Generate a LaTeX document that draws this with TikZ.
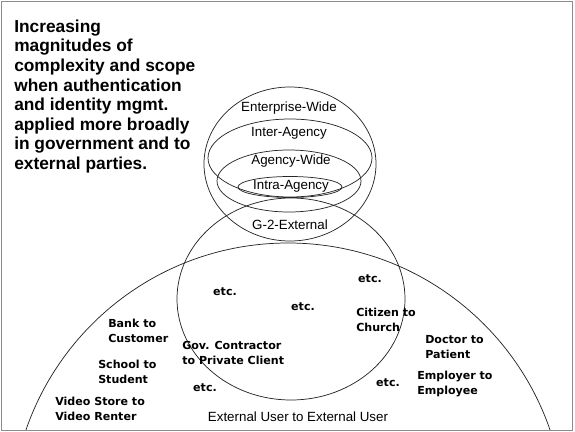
\documentclass[tikz,border=0pt]{standalone}
\usepackage{fontspec}
\setmainfont{Liberation Sans}
\newfontfamily\heavyfont{DejaVu Sans}
\usetikzlibrary{positioning}

\tikzset{
  ring/.style={draw=black!85, line width=0.55pt},
  scopelabel/.style={font=\fontsize{10}{12}\selectfont, inner sep=0pt},
  pairlabel/.style={font=\heavyfont\bfseries\fontsize{8.3}{11}\selectfont, align=left, anchor=west, inner sep=0pt},
  etclabel/.style={font=\heavyfont\bfseries\fontsize{8.3}{11}\selectfont, inner sep=0pt},
}

\begin{document}
\begin{tikzpicture}[x=0.75pt,y=0.75pt,yscale=-1,xscale=1]
\useasboundingbox (0,0) rectangle (575,432);

\begin{scope}
\clip (1,1) rectangle (572,430);
%Shape: Ellipse [Enterprise-Wide]
\draw [ring] (290,164) ellipse [x radius=86, y radius=77];
%Shape: Ellipse [Inter-Agency]
\draw [ring] (290,158) ellipse [x radius=82, y radius=39];
%Shape: Ellipse [Agency-Wide]
\draw [ring] (289,181) ellipse [x radius=72, y radius=31];
%Shape: Ellipse [Intra-Agency]
\draw [ring] (290,187) ellipse [x radius=52, y radius=10.5];
%Shape: Ellipse [G-2-External]
\draw [ring] (291,299) ellipse [x radius=114, y radius=101];
%Shape: Circle [External User]
\draw [ring] (288,520) circle [radius=277];
\end{scope}

%Shape: Frame
\draw [color=black!45] (1,1) rectangle (572,430);

% Text Node
\node [anchor=west, align=left, inner sep=0pt, font=\bfseries\fontsize{13}{14.7}\selectfont] (intro) at (14,96.5)
  {Increasing\\magnitudes of\\complexity and scope\\when authentication\\and identity mgmt.\\applied more broadly\\in government and to\\external parties.};

% Text Node
\node [scopelabel] (enterprise) at (289,108) {Enterprise-Wide};
% Text Node
\node [scopelabel] (inter) at (289,133) {Inter-Agency};
% Text Node
\node [scopelabel] (agency) at (291,161) {Agency-Wide};
% Text Node
\node [scopelabel] (intra) at (291,186) {Intra-Agency};
% Text Node
\node [scopelabel] (gtwo) at (290,225) {G-2-External};
% Text Node
\node [scopelabel] (external) at (298,417) {External User to External User};

% Text Node
\node [etclabel] (etcA) at (225,292) {etc.};
% Text Node
\node [etclabel] (etcB) at (303,307) {etc.};
% Text Node
\node [etclabel] (etcC) at (370,279) {etc.};
% Text Node
\node [etclabel] (etcD) at (205,388) {etc.};
% Text Node
\node [etclabel] (etcE) at (388,383) {etc.};

% Text Node
\node [pairlabel] (bank) at (108,331) {Bank to\\Customer};
% Text Node
\node [pairlabel] (school) at (98,372) {School to\\Student};
% Text Node
\node [pairlabel] (video) at (55,409) {Video Store to\\Video Renter};
% Text Node
\node [pairlabel] (contractor) at (182,353) {Gov. Contractor\\to Private Client};
% Text Node
\node [pairlabel] (citizen) at (356,320) {Citizen to\\Church};
% Text Node
\node [pairlabel] (doctor) at (425,347) {Doctor to\\Patient};
% Text Node
\node [pairlabel] (employer) at (417,384) {Employer to\\Employee};

\end{tikzpicture}
\end{document}
